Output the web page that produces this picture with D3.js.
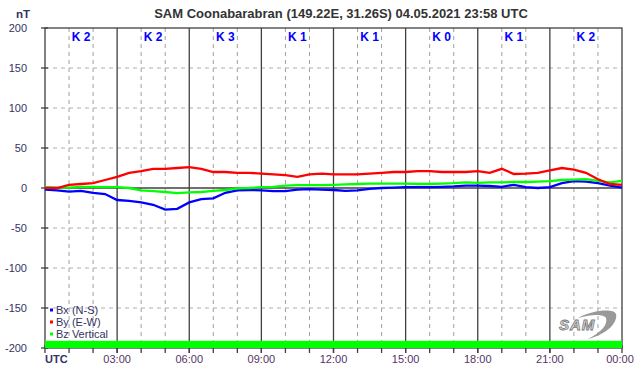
<html><head>
<script src="https://d3js.org/d3.v7.min.js"></script>
<style>
  body { margin: 0; background: #fff; }
  text { font-family: Arial, "Liberation Sans", sans-serif; }
</style>
</head>
<body>
<svg id="chart" width="642" height="376"></svg>
<script>
  // hours of day (UTC), every half hour
  const hours = d3.range(0, 24.01, 0.5);

  // Bx (N-S), nT
  const bx = [-2, -3, -4.5, -3.5, -6, -7.5, -15, -16, -18, -21, -27, -26, -18, -14, -13, -6, -3, -2.5, -3, -4,
              -4, -2, -1.5, -2, -2.5, -3.5, -3, -1, 0, 0.5, 1, 1, 1, 1.5, 2, 3, 3, 2.5, 1.5, 4,
              1, 0, 1, 6, 8.5, 8, 6, 3, 0.5];
  // By (E-W), nT
  const by = [0, 0, 4, 5, 6, 10, 14, 19, 21, 24, 24, 25, 26, 24, 20, 20, 19, 19, 18, 17,
              16, 14, 17, 18, 17, 17, 17, 18, 19, 20, 20, 21, 21, 20, 20, 20, 21, 19, 24, 17.5,
              18, 19, 22, 25, 23, 19, 11, 5, 4];
  // Bz vertical, nT
  const bz = [1, 0.5, 0.5, 1.5, 1.5, 1, 1, 0, -3, -4, -5, -6.5, -5.5, -5, -3.5, -2.5, -0.5, 0, 1, 1.5,
              3, 3.5, 3.5, 3.5, 4, 4.5, 5, 5.5, 5.5, 5.5, 5.5, 5, 5, 5.5, 6, 7, 6.5, 7, 7, 7.5,
              7.5, 8, 8.5, 10, 10.5, 11, 9, 7, 9];

  const kIndex = ["K 2", "K 2", "K 3", "K 1", "K 1", "K 0", "K 1", "K 2"];
  const timeLabels = ["03:00", "06:00", "09:00", "12:00", "15:00", "18:00", "21:00", "00:00"];
  const yTicks = [200, 150, 100, 50, 0, -50, -100, -150, -200];

  const series = [
    { name: "Bx (N-S)", values: bx, color: "#0000ff" },
    { name: "Bz Vertical", values: bz, color: "#00ff00" },
    { name: "By (E-W)", values: by, color: "#ff0000" }
  ];
  const legendItems = [
    { name: "Bx (N-S)", color: "#0000ff" },
    { name: "By (E-W)", color: "#ff0000" },
    { name: "Bz Vertical", color: "#00ff00" }
  ];

  const svg = d3.select("#chart");
  const margin = { top: 28, right: 20, bottom: 28, left: 45 };
  const width = 642, height = 376;
  const x = d3.scaleLinear().domain([0, 24]).range([margin.left, width - margin.right]);
  const y = d3.scaleLinear().domain([-200, 200]).range([height - margin.bottom, margin.top]);

  const axisColor = "#404040";
  const labelColor = "#333366";

  // title and unit
  svg.append("text").attr("x", 341).attr("y", 18).attr("text-anchor", "middle")
     .attr("font-size", 13).attr("font-weight", "bold").attr("fill", "#333")
     .text("SAM Coonabarabran (149.22E, 31.26S) 04.05.2021 23:58 UTC");
  svg.append("text").attr("x", 16).attr("y", 18).attr("font-size", 11.5)
     .attr("font-weight", "bold").attr("fill", labelColor).text("nT");

  // horizontal dashed grid
  svg.selectAll("line.hgrid").data(yTicks.filter(d => d !== 0 && Math.abs(d) !== 200))
    .join("line").attr("class", "hgrid")
    .attr("x1", x(0)).attr("x2", x(24))
    .attr("y1", d => y(d)).attr("y2", d => y(d))
    .attr("stroke", "#b0b0b0").attr("stroke-dasharray", "4,4");

  // hourly dashed grid
  svg.selectAll("line.vgrid").data(d3.range(1, 24).filter(h => h % 3 !== 0))
    .join("line").attr("class", "vgrid")
    .attr("x1", d => x(d)).attr("x2", d => x(d))
    .attr("y1", y(200)).attr("y2", y(-200))
    .attr("stroke", "#a0a0a0").attr("stroke-dasharray", "4,4");

  // 3-hourly solid lines
  svg.selectAll("line.major").data(d3.range(3, 24, 3))
    .join("line").attr("class", "major")
    .attr("x1", d => x(d)).attr("x2", d => x(d))
    .attr("y1", y(200)).attr("y2", y(-200) + 5)
    .attr("stroke", axisColor).attr("stroke-width", 1.3);

  // hour ticks at the bottom
  svg.selectAll("line.htick").data(d3.range(0, 25))
    .join("line").attr("class", "htick")
    .attr("x1", d => x(d)).attr("x2", d => x(d))
    .attr("y1", y(-200) - 3).attr("y2", y(-200) + 5)
    .attr("stroke", axisColor).attr("stroke-width", 1.3);

  // y ticks
  svg.selectAll("line.ytick").data(yTicks)
    .join("line").attr("class", "ytick")
    .attr("x1", x(0) - 4).attr("x2", x(0) + 3)
    .attr("y1", d => y(d)).attr("y2", d => y(d))
    .attr("stroke", axisColor).attr("stroke-width", 1.3);
  svg.selectAll("text.ylab").data(yTicks)
    .join("text").attr("class", "ylab")
    .attr("x", 27).attr("y", d => y(d) + 4).attr("text-anchor", "end")
    .attr("font-size", 11).attr("fill", labelColor)
    .text(d => d);

  // zero line and frame
  svg.append("line").attr("x1", x(0)).attr("x2", x(24)).attr("y1", y(0)).attr("y2", y(0))
     .attr("stroke", axisColor).attr("stroke-width", 1.3);
  svg.append("rect").attr("x", x(0)).attr("y", y(200))
     .attr("width", x(24) - x(0)).attr("height", y(-200) - y(200))
     .attr("fill", "none").attr("stroke", axisColor).attr("stroke-width", 1.3);

  // data availability bar
  svg.append("rect").attr("x", x(0)).attr("y", y(-191))
     .attr("width", x(24) - x(0)).attr("height", y(-200) - y(-191))
     .attr("fill", "#00ff00");

  // K-index labels
  svg.selectAll("text.k").data(kIndex)
    .join("text").attr("class", "k")
    .attr("x", (d, i) => x(i * 3 + 1.5)).attr("y", 41).attr("text-anchor", "middle")
    .attr("font-size", 12).attr("font-weight", "bold").attr("fill", "#0000ff")
    .text(d => d);

  // x labels
  svg.append("text").attr("x", x(0)).attr("y", 363).attr("font-size", 11)
     .attr("font-weight", "bold").attr("fill", labelColor).text("UTC");
  svg.selectAll("text.xlab").data(timeLabels)
    .join("text").attr("class", "xlab")
    .attr("x", (d, i) => x((i + 1) * 3) - (i === 7 ? 2 : 0)).attr("y", 363)
    .attr("text-anchor", "middle").attr("font-size", 11).attr("fill", "#553366")
    .text(d => d);

  // magnetometer traces
  const line = d3.line().x((d, i) => x(hours[i])).y(d => y(d));
  svg.selectAll("path.trace").data(series)
    .join("path").attr("class", "trace")
    .attr("d", d => line(d.values))
    .attr("fill", "none").attr("stroke", d => d.color).attr("stroke-width", 2.3);

  // legend
  const legend = svg.append("g").attr("transform", "translate(50,310)");
  legendItems.forEach((d, i) => {
    legend.append("rect").attr("x", 0).attr("y", i * 12 - 1.5).attr("width", 3).attr("height", 3)
      .attr("fill", d.color);
    legend.append("text").attr("x", 6).attr("y", i * 12 + 4).attr("font-size", 11)
      .attr("fill", labelColor).text(d.name);
  });

  // SAM logo
  const logo = svg.append("g").attr("transform", "translate(558,312)");
  logo.append("path")
    .attr("d", "M20,6 C34,-2 56,-4 58,2 C60,10 50,22 30,27 C44,20 50,12 48,6 C46,2 34,2 20,6 Z")
    .attr("fill", "#999");
  logo.append("text").attr("x", 1).attr("y", 18).attr("font-size", 15).attr("font-style", "italic")
    .attr("font-weight", "bold").attr("fill", "#e0e0e0").attr("stroke", "#777").attr("stroke-width", 0.8)
    .attr("letter-spacing", 1).text("SAM");
</script>
</body>
</html>
